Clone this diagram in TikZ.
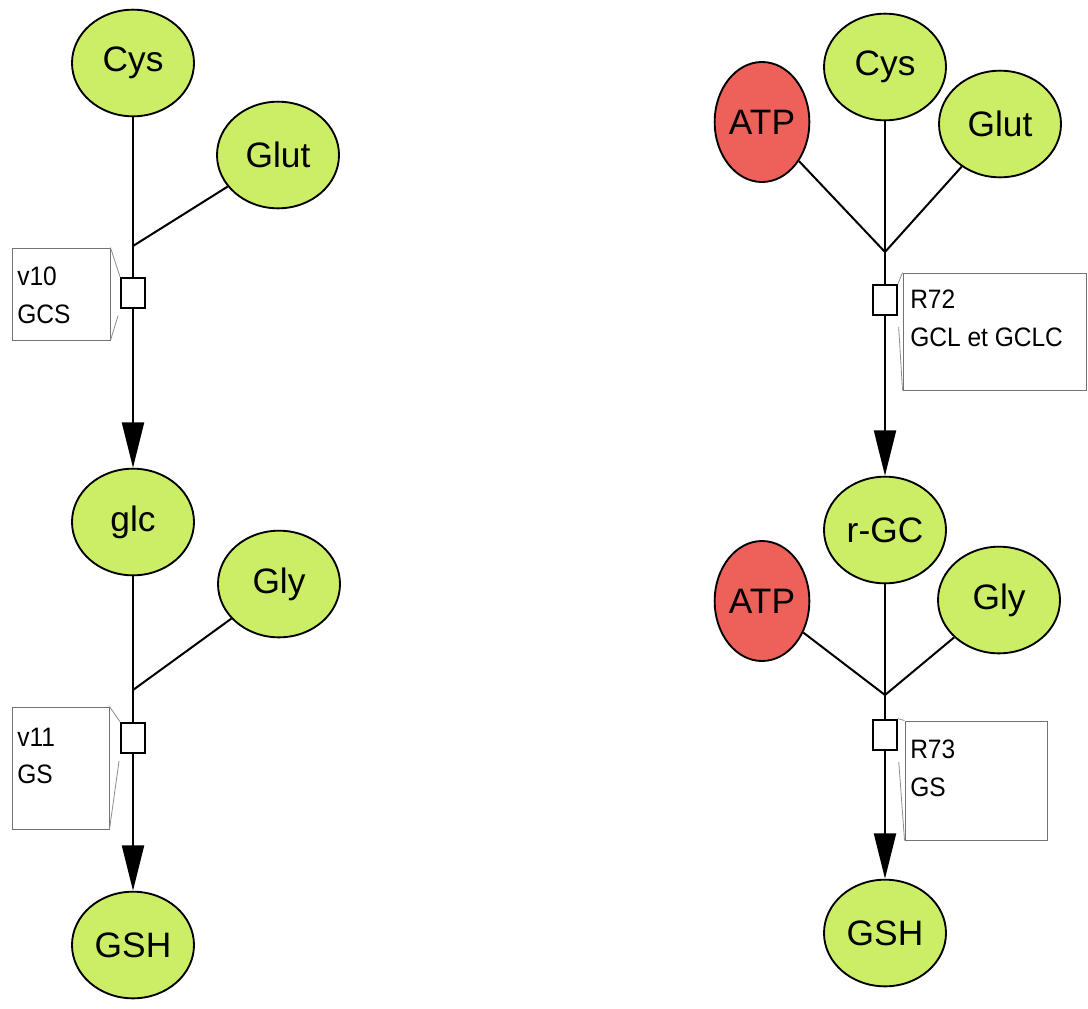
\documentclass[tikz,border=0pt]{standalone}
\usepackage{fontspec}
\setmainfont{Liberation Sans}
\newfontfamily\narrowsans[FakeStretch=0.92]{Liberation Sans}
\usetikzlibrary{shapes.geometric,arrows.meta}

\definecolor{metgreen}{RGB}{204,238,102}
\definecolor{metred}{RGB}{238,96,90}

\begin{document}
\begin{tikzpicture}[x=0.75pt,y=0.75pt,yscale=-1,xscale=1,
  metab/.style={ellipse, draw, line width=1.4pt, fill=metgreen, inner sep=0pt, minimum width=91.5pt, minimum height=80pt, font=\fontsize{26.5}{30}\selectfont},
  cofac/.style={metab, fill=metred, minimum width=71pt, minimum height=90pt},
  reac/.style={rectangle, draw, fill=white, line width=1.5pt, minimum width=18pt, minimum height=23pt, inner sep=0pt},
  lbox/.style={rectangle, draw=black!55, line width=0.7pt, inner sep=0pt},
  ltext/.style={anchor=north west, inner sep=0pt, align=left, font=\narrowsans\fontsize{20}{28}\selectfont},
  leader/.style={draw=black!45, line width=0.6pt},
  bond/.style={line width=1.5pt},
  prod/.style={bond, -{Triangle[length=34pt,width=16.5pt]}}]
%set diagram size
\useasboundingbox (0,0) rectangle (1088,1008);

%Left pathway
\node [metab] (cysA) at (133,63) {Cys};
\node [metab] (glutA) at (278,155) {Glut};
\coordinate (jA1) at (133,246);
\node [reac] (sqA1) at (133,293) {};
\node [metab] (glcA) at (133,522) {glc};
\node [metab] (glyA) at (279,584) {Gly};
\coordinate (jA2) at (133,690);
\node [reac] (sqA2) at (133,738) {};
\node [metab] (gshA) at (133,945) {GSH};

%Right pathway
\node [cofac] (atpR1) at (762,122) {ATP};
\node [metab] (cysR) at (885,67) {Cys};
\node [metab] (glutR) at (1000,124) {Glut};
\coordinate (jR1) at (885,252);
\node [reac] (sqR1) at (885,300) {};
\node [metab] (rgcR) at (885,530) {r-GC};
\node [cofac] (atpR2) at (762,601) {ATP};
\node [metab] (glyR) at (999,600) {Gly};
\coordinate (jR2) at (885,695);
\node [reac] (sqR2) at (885,735) {};
\node [metab] (gshR) at (885,933) {GSH};

% Reaction label boxes
\node [lbox, minimum width=73.5pt, minimum height=69pt] (boxA1) at (61,294) {};
\node [lbox, minimum width=72.75pt, minimum height=91.5pt] (boxA2) at (60.5,768) {};
\node [lbox, minimum width=137.25pt, minimum height=87.75pt] (boxR1) at (994.5,331.5) {};
\node [lbox, minimum width=106.5pt, minimum height=89.25pt] (boxR2) at (976,780.5) {};
% Text Node
\node [ltext] at (17,267) {v10\\GCS};
\node [ltext] at (17,728) {v11\\GS};
\node [ltext] at (910,290) {R72\\GCL et GCLC};
\node [ltext] at (910,740) {R73\\GS};

%Straight Lines
\draw [bond] (cysA) -- (jA1);
\draw [bond] (glutA) -- (jA1);
\draw [bond] (jA1) -- (sqA1);
\draw [prod] (sqA1) -- (glcA);
\draw [bond] (glcA) -- (jA2);
\draw [bond] (glyA) -- (jA2);
\draw [bond] (jA2) -- (sqA2);
\draw [prod] (sqA2) -- (gshA);

\draw [bond] (atpR1) -- (jR1);
\draw [bond] (cysR) -- (jR1);
\draw [bond] (glutR) -- (jR1);
\draw [bond] (jR1) -- (sqR1);
\draw [prod] (sqR1) -- (rgcR);
\draw [bond] (atpR2) -- (jR2);
\draw [bond] (rgcR) -- (jR2);
\draw [bond] (glyR) -- (jR2);
\draw [bond] (jR2) -- (sqR2);
\draw [prod] (sqR2) -- (gshR);

%Label leaders
\draw [leader] (boxA1.north east) -- (sqA1.north west);
\draw [leader, shorten >=5pt] (boxA1.south east) -- (sqA1.south west);
\draw [leader] (boxA2.north east) -- (sqA2.north west);
\draw [leader, shorten >=5pt] (boxA2.south east) -- (sqA2.south west);
\draw [leader] (boxR1.north west) -- (sqR1.north east);
\draw [leader, shorten >=8pt] (boxR1.south west) -- (sqR1.south east);
\draw [leader] (boxR2.north west) -- (sqR2.north east);
\draw [leader, shorten >=8pt] (boxR2.south west) -- (sqR2.south east);

\end{tikzpicture}
\end{document}
